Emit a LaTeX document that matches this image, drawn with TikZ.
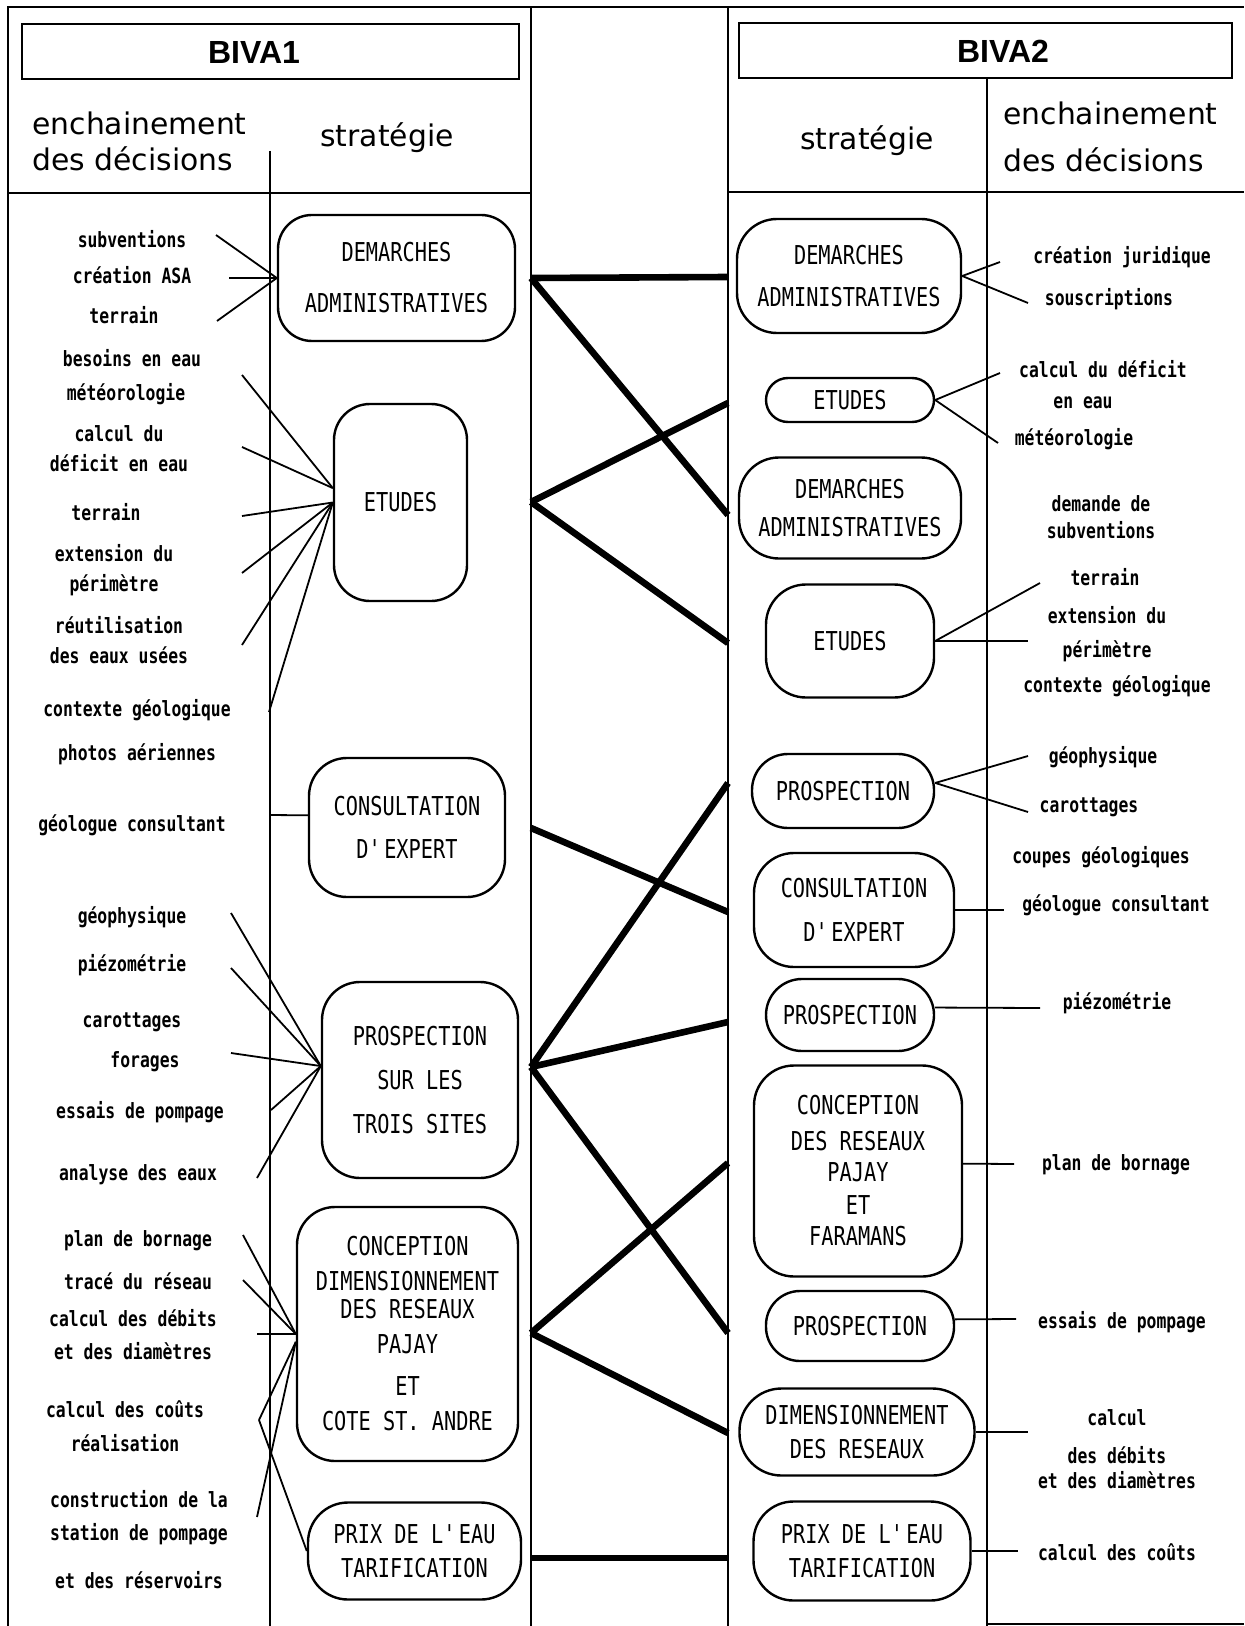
\documentclass[tikz,border=0pt]{standalone}
\usepackage{fontspec}
\newfontfamily\boxfont[FakeStretch=0.78]{DejaVu Sans Mono}
\newfontfamily\labfont[FakeStretch=0.78]{DejaVu Sans Mono}
\newfontfamily\headfont{DejaVu Sans}
\newfontfamily\titlefont{Liberation Sans}

\begin{document}
\begin{tikzpicture}[x=0.5pt, y=-0.5pt,
  panel/.style={line width=1pt},
  titlebox/.style={draw, line width=1.4pt},
  titletext/.style={inner sep=0pt, font=\titlefont\bfseries\fontsize{16}{18}\selectfont},
  headtext/.style={inner sep=0pt, font=\headfont\fontsize{14.9}{18}\selectfont},
  sbox/.style={draw, line width=1.2pt, rounded corners=19pt, align=center, inner sep=0pt, font=\boxfont\fontsize{13}{17}\selectfont},
  lab/.style={align=center, inner sep=0pt, font=\labfont\bfseries\fontsize{10.5}{15}\selectfont},
  link/.style={line width=0.9pt},
  strat/.style={line width=3.3pt}
]
\useasboundingbox (0,0) rectangle (1244,1626);

\draw[panel] (8,1626) -- (8,7) -- (1244,7);
\draw[panel] (531,7) -- (531,1626);
\draw[panel] (8,193) -- (531,193);
\draw[panel] (270,151) -- (270,1626);
\draw[titlebox] (22,24) rectangle (519,79);
\draw[panel] (728,7) -- (728,1626);
\draw[titlebox] (739,23) rectangle (1232,78);
\draw[panel] (987,78) -- (987,1626);
\draw[panel] (728,192) -- (1244,192);
\draw[panel] (987,1624) -- (1244,1624);

\node[titletext] (biva1) at (254,52) {BIVA1};
\node[titletext] (biva2) at (1003,51) {BIVA2};
\node[headtext, align=left, anchor=west] (hdec1) at (32,141) {enchainement\\des décisions};
\node[headtext] (hstr1) at (387,138) {stratégie};
\node[headtext] (hstr2) at (867,141) {stratégie};
\node[headtext, align=left, anchor=west] (hdec2) at (1003,137) {enchainement\\[5.5pt]des décisions};

\node[sbox, minimum width=118.5pt, minimum height=63pt, rounded corners=17pt] (ldem) at (396.5,278) {DEMARCHES\\[8.5pt]ADMINISTRATIVES};
\node[sbox, minimum width=66.5pt, minimum height=98.5pt, rounded corners=18pt] (letu) at (400.5,502.5) {ETUDES};
\node[sbox, minimum width=98pt, minimum height=69.5pt] (lcons) at (407,827.5) {CONSULTATION\\[4.5pt]D\textquotesingle EXPERT};
\node[sbox, minimum width=98pt, minimum height=98pt] (lpros) at (420,1080) {PROSPECTION\\[5pt]SUR LES\\[5pt]TROIS SITES};
\node[sbox, minimum width=110.5pt, minimum height=127pt] (lconc) at (407.5,1334) {CONCEPTION\\[0.5pt]DIMENSIONNEMENT\\[-3pt]DES RESEAUX\\[0.5pt]PAJAY\\[4pt]ET\\[0.5pt]COTE ST. ANDRE};
\node[sbox, minimum width=106.5pt, minimum height=48.5pt, rounded corners=20pt] (lprix) at (414.5,1551) {PRIX DE L\textquotesingle EAU\\TARIFICATION};

\node[sbox, minimum width=112pt, minimum height=57pt, rounded corners=20pt] (rdem1) at (849,276) {DEMARCHES\\[4pt]ADMINISTRATIVES};
\node[sbox, minimum width=84pt, minimum height=22pt, rounded corners=11pt] (retu1) at (850,400) {ETUDES};
\node[sbox, minimum width=111pt, minimum height=50.5pt, rounded corners=20pt] (rdem2) at (850,508) {DEMARCHES\\[2pt]ADMINISTRATIVES};
\node[sbox, minimum width=84pt, minimum height=56.5pt, rounded corners=20pt] (retu2) at (850,641) {ETUDES};
\node[sbox, minimum width=91pt, minimum height=37pt, rounded corners=18pt] (rpros1) at (843,791) {PROSPECTION};
\node[sbox, minimum width=100pt, minimum height=57pt, rounded corners=20pt] (rcons) at (854,910) {CONSULTATION\\[5pt]D\textquotesingle EXPERT};
\node[sbox, minimum width=84pt, minimum height=36pt, rounded corners=18pt] (rpros2) at (850,1015) {PROSPECTION};
\node[sbox, minimum width=104pt, minimum height=105.5pt, rounded corners=20pt] (rconc) at (858,1171) {CONCEPTION\\[1pt]DES RESEAUX\\[-1.5pt]PAJAY\\[-0.5pt]ET\\[-1.5pt]FARAMANS};
\node[sbox, minimum width=94pt, minimum height=35pt, rounded corners=17pt] (rpros3) at (860,1326) {PROSPECTION};
\node[sbox, minimum width=117.5pt, minimum height=43.5pt, rounded corners=21pt] (rdim) at (857,1432) {DIMENSIONNEMENT\\DES RESEAUX};
\node[sbox, minimum width=108.5pt, minimum height=49.5pt, rounded corners=20pt] (rprix) at (862,1551) {PRIX DE L\textquotesingle EAU\\TARIFICATION};

\node[lab] (dsubv) at (132,239) {subventions};
\node[lab] (dasa) at (132,275) {création ASA};
\node[lab] (dterr1) at (124,315) {terrain};
\node[lab] (dbes) at (132,358) {besoins en eau};
\node[lab] (dmet1) at (126,394) {météorologie};
\node[lab] (dcalc1) at (119,449) {calcul du\\déficit en eau};
\node[lab] (dterr2) at (106,512) {terrain};
\node[lab] (dext1) at (114,570) {extension du\\périmètre};
\node[lab] (dreut) at (119,640) {réutilisation\\des eaux usées};
\node[lab] (dctx1) at (137,710) {contexte géologique};
\node[lab] (dphot) at (137,754) {photos aériennes};
\node[lab] (dgeol1) at (132,825) {géologue consultant};
\node[lab] (dgeo1) at (132,917) {géophysique};
\node[lab] (dpiez1) at (132,965) {piézométrie};
\node[lab] (dcar1) at (132,1022) {carottages};
\node[lab] (dfor) at (145,1062) {forages};
\node[lab] (dess1) at (140,1112) {essais de pompage};
\node[lab] (dana) at (138,1175) {analyse des eaux};
\node[lab] (dplan1) at (138,1241) {plan de bornage};
\node[lab] (dtrac) at (138,1281) {tracé du réseau};
\node[lab] (ddeb1) at (133,1335) {calcul des débits\\[1.5pt]et des diamètres};
\node[lab] (dcout1) at (125,1426) {calcul des coûts\\[2pt]réalisation};
\node[lab] (dcons) at (139,1540) {construction de la\\[1.5pt]station de pompage\\[9pt]et des réservoirs};

\node[lab] (djur) at (1122,257) {création juridique};
\node[lab] (dsous) at (1109,299) {souscriptions};
\node[lab] (dcalc2) at (1103,369) {calcul du déficit};
\node[lab] (deau) at (1083,403) {en eau};
\node[lab] (dmet2) at (1074,439) {météorologie};
\node[lab] (ddem) at (1101,517) {demande de\\[-1.5pt]subventions};
\node[lab] (dterr3) at (1105,577) {terrain};
\node[lab] (dext2) at (1107,634) {extension du\\[2pt]périmètre};
\node[lab] (dctx2) at (1117,686) {contexte géologique};
\node[lab] (dgeo2) at (1103,757) {géophysique};
\node[lab] (dcar2) at (1089,807) {carottages};
\node[lab] (dcoup) at (1101,857) {coupes géologiques};
\node[lab] (dgeol2) at (1116,905) {géologue consultant};
\node[lab] (dpiez2) at (1117,1003) {piézométrie};
\node[lab] (dplan2) at (1116,1165) {plan de bornage};
\node[lab] (dess2) at (1122,1322) {essais de pompage};
\node[lab] (ddeb2) at (1117,1449) {calcul\\[4pt]des débits\\[-2.5pt]et des diamètres};
\node[lab] (dcout2) at (1117,1552) {calcul des coûts};

\coordinate (fsubv) at (216,235);
\coordinate (fasa) at (229,278);
\coordinate (fterr1) at (217,321);
\coordinate (fmet1) at (242,375);
\coordinate (fcalc1) at (242,447);
\coordinate (fterr2) at (242,516);
\coordinate (fext1) at (242,573);
\coordinate (freut) at (242,645);
\coordinate (fctx1) at (269,712);
\coordinate (fgeol1) at (270,815);
\coordinate (fgeo1) at (231,913);
\coordinate (fpiez1) at (231,968);
\coordinate (ffor) at (231,1053);
\coordinate (fess1) at (271,1110);
\coordinate (fana) at (257,1178);
\coordinate (fplan1) at (243,1235);
\coordinate (ftrac) at (243,1280);
\coordinate (fdeb1) at (257,1334);
\coordinate (fcout1) at (259,1420);
\coordinate (fcons) at (257,1517);

\coordinate (fjur) at (1000,262);
\coordinate (fsous) at (1028,303);
\coordinate (fcalc2) at (1000,373);
\coordinate (fmet2) at (998,443);
\coordinate (fterr3) at (1040,583);
\coordinate (fext2) at (1028,641);
\coordinate (fgeo2) at (1028,756);
\coordinate (fcar2) at (1028,812);
\coordinate (fgeol2) at (1004,910);
\coordinate (fpiez2) at (1040,1008);
\coordinate (fplan2) at (1014,1164);
\coordinate (fess2) at (1016,1319);
\coordinate (fdeb2) at (1028,1432);
\coordinate (fcout2) at (1018,1551);

\coordinate (pldem) at (531,278);
\coordinate (pletu) at (531,502);
\coordinate (plcons) at (531,828);
\coordinate (plpros) at (531,1067);
\coordinate (plconc) at (531,1333);
\coordinate (plprix) at (531,1558);
\coordinate (prdem1) at (728,277);
\coordinate (pretu1) at (728,403);
\coordinate (prdem2) at (728,515);
\coordinate (pretu2) at (728,643);
\coordinate (prpros1) at (728,783);
\coordinate (prcons) at (728,912);
\coordinate (prpros2) at (728,1022);
\coordinate (prconc) at (728,1163);
\coordinate (prpros3) at (728,1333);
\coordinate (prdim) at (728,1433);
\coordinate (prprix) at (728,1558);

\draw[link] (fsubv) -- (ldem.west);
\draw[link] (fasa) -- (ldem.west);
\draw[link] (fterr1) -- (ldem.west);
\draw[link] (fmet1) -- (letu.168);
\draw[link] (fcalc1) -- (letu.168);
\draw[link] (fterr2) -- (letu.west);
\draw[link] (fext1) -- (letu.west);
\draw[link] (freut) -- (letu.west);
\draw[link] (fctx1) -- (letu.west);
\draw[link] (fgeol1) -- (lcons.173);
\draw[link] (fgeo1) -- (lpros.172);
\draw[link] (fpiez1) -- (lpros.172);
\draw[link] (ffor) -- (lpros.172);
\draw[link] (fess1) -- (lpros.172);
\draw[link] (fana) -- (lpros.172);
\draw[link] (fplan1) -- (lconc.west);
\draw[link] (ftrac) -- (lconc.west);
\draw[link] (fdeb1) -- (lconc.west);
\draw[link] (fcout1) -- (lconc.184);
\draw[link] (fcons) -- (lconc.184);
\draw[link] (fcout1) -- (lprix.west);

\draw[link] (rdem1.east) -- (fjur);
\draw[link] (rdem1.east) -- (fsous);
\draw[link] (retu1.east) -- (fcalc2);
\draw[link] (retu1.east) -- (fmet2);
\draw[link] (retu2.east) -- (fterr3);
\draw[link] (retu2.east) -- (fext2);
\draw[link] (rpros1.5) -- (fgeo2);
\draw[link] (rpros1.5) -- (fcar2);
\draw[link] (rcons.east) -- (fgeol2);
\draw[link] (rpros2.5) -- (fpiez2);
\draw[link] (rconc.4) -- (fplan2);
\draw[link] (rpros3.4) -- (fess2);
\draw[link] (rdim.east) -- (fdeb2);
\draw[link] (rprix.east) -- (fcout2);

\draw[strat] (pldem) -- (prdem1);
\draw[strat] (pldem) -- (prdem2);
\draw[strat] (pletu) -- (pretu1);
\draw[strat] (pletu) -- (pretu2);
\draw[strat] (plcons) -- (prcons);
\draw[strat] (plpros) -- (prpros1);
\draw[strat] (plpros) -- (prpros2);
\draw[strat] (plpros) -- (prpros3);
\draw[strat] (plconc) -- (prconc);
\draw[strat] (plconc) -- (prdim);
\draw[strat] (plprix) -- (prprix);
\end{tikzpicture}
\end{document}
